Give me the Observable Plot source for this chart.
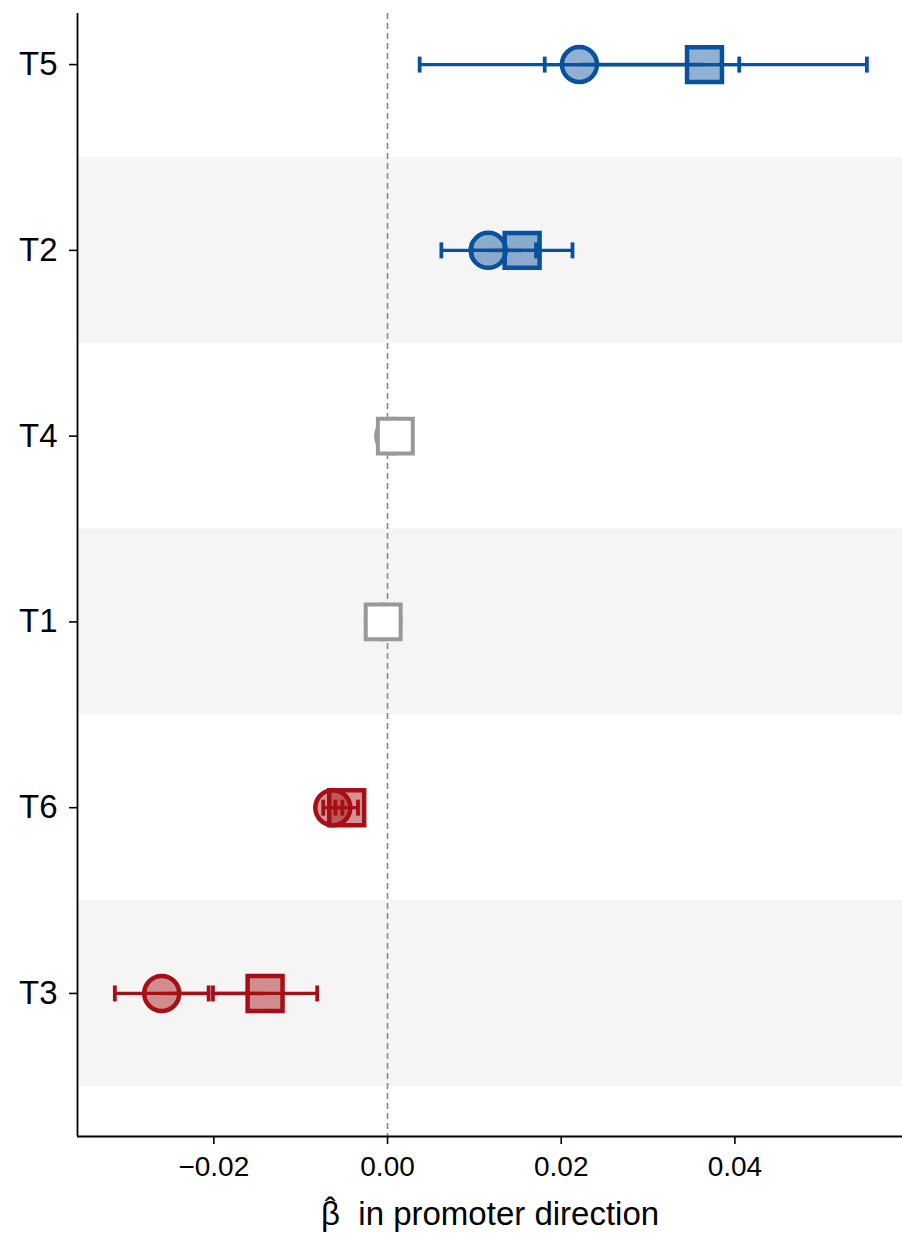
<!DOCTYPE html>
<html><head><meta charset="utf-8">
<script src="https://cdn.jsdelivr.net/npm/d3@7"></script>
<script src="https://cdn.jsdelivr.net/npm/@observablehq/plot@0.6"></script>
<style>body{margin:0;background:#fff}</style>
</head><body><div id="chart"></div>
<script>
// rows listed bottom to top (y index 0..5)
const terms = ["T3", "T6", "T1", "T4", "T2", "T5"];
const shadedTerms = ["T3", "T1", "T2"];
const direction = ["neg", "neg", "ns", "ns", "pos", "pos"];
const circleBeta = [-0.0260, -0.0063, -0.0005, 0.0007, 0.0116, 0.0221];
const circleLo   = [-0.0314, -0.0074, null, null, 0.0062, 0.0037];
const circleHi   = [-0.0206, -0.0052, null, null, 0.0171, 0.0405];
const squareBeta = [-0.0141, -0.0047, -0.0005, 0.0009, 0.0155, 0.0365];
const squareLo   = [-0.0201, -0.0060, null, null, 0.0097, 0.0181];
const squareHi   = [-0.0081, -0.0034, null, null, 0.0213, 0.0552];
const xTicks = [-0.02, 0.00, 0.02, 0.04];
const xDomain = [-0.0357, 0.0593];
const yDomain = [-0.77, 5.275];
const xLabelSymbol = "\u03b2";
const xLabelHat = "\u02c6";
const xLabelRest = "  in promoter direction";

const colors = {neg: "#a50f15", pos: "#08519c", ns: "#999999"};

const rows = terms.map((t, i) => ({
  term: t, i, dir: direction[i],
  cb: circleBeta[i], cl: circleLo[i], ch: circleHi[i],
  sb: squareBeta[i], sl: squareLo[i], sh: squareHi[i]
}));
const sig = rows.filter(d => d.dir !== "ns");
const ns = rows.filter(d => d.dir === "ns");
const bands = rows.filter(d => shadedTerms.includes(d.term));
const caps = sig.flatMap(d => [
  {x: d.cl, i: d.i, dir: d.dir}, {x: d.ch, i: d.i, dir: d.dir},
  {x: d.sl, i: d.i, dir: d.dir}, {x: d.sh, i: d.i, dir: d.dir}
]);
const vbar = {draw(ctx, size) { const r = Math.sqrt(size / Math.PI); ctx.moveTo(0, -r); ctx.lineTo(0, r); }};
const col = d => colors[d.dir];

const chart = Plot.plot({
  width: 902, height: 1236,
  marginLeft: 77, marginRight: 0, marginTop: 13, marginBottom: 100,
  style: {fontFamily: "'Liberation Sans', Arial, sans-serif", background: "#fff", color: "#000"},
  x: {domain: xDomain},
  y: {domain: yDomain},
  marks: [
    Plot.rect(bands, {x1: () => xDomain[0], x2: () => xDomain[1], y1: d => d.i - 0.5, y2: d => d.i + 0.5, fill: "#f5f5f5"}),
    Plot.ruleX([0], {stroke: "#888", strokeWidth: 1.6, strokeDasharray: "6,4"}),
    Plot.link(sig, {x1: "cb", x2: "sb", y1: "i", y2: "i", stroke: "#aaa", strokeWidth: 5, strokeOpacity: 0.5}),
    Plot.link(sig, {x1: "cl", x2: "ch", y1: "i", y2: "i", stroke: col, strokeWidth: 3.2}),
    Plot.link(sig, {x1: "sl", x2: "sh", y1: "i", y2: "i", stroke: col, strokeWidth: 3.2}),
    Plot.dot(caps, {x: "x", y: "i", symbol: vbar, r: 8, stroke: d => colors[d.dir], strokeWidth: 3.8, fill: "none"}),
    Plot.dot(sig, {x: "cb", y: "i", symbol: "circle", r: 17.5, fill: col, fillOpacity: 0.45, stroke: col, strokeWidth: 4.5}),
    Plot.dot(sig, {x: "sb", y: "i", symbol: "square", r: 19.7, fill: col, fillOpacity: 0.45, stroke: col, strokeWidth: 4.5}),
    Plot.dot(ns, {x: "cb", y: "i", symbol: "circle", r: 17.5, fill: "#fff", stroke: col, strokeWidth: 4}),
    Plot.dot(ns, {x: "sb", y: "i", symbol: "square", r: 19.7, fill: "#fff", stroke: col, strokeWidth: 4}),
    Plot.ruleX([xDomain[0]], {stroke: "#000", strokeWidth: 1.8}),
    Plot.ruleY([yDomain[0]], {stroke: "#000", strokeWidth: 1.8}),
    Plot.axisX({ticks: xTicks, tickFormat: d3.format(".2f"), tickSize: 8, tickPadding: 12, fontSize: 28, label: null, strokeWidth: 1.6}),
    Plot.axisY({ticks: d3.range(terms.length), tickFormat: i => terms[i], tickSize: 8, tickPadding: 12, fontSize: 33, label: null, strokeWidth: 1.6}),
    Plot.text([xLabelSymbol + xLabelRest], {frameAnchor: "bottom", dy: 78, fontSize: 33, text: d => d, lineAnchor: "middle", className: "xlabel"})
  ]
});
// put a circumflex over the beta in the axis label (kept as real text)
const lbl = chart.querySelector(".xlabel text");
if (lbl) {
  lbl.textContent = "";
  const ns_ = "http://www.w3.org/2000/svg";
  const t1 = document.createElementNS(ns_, "tspan"); t1.textContent = xLabelSymbol;
  const t2 = document.createElementNS(ns_, "tspan"); t2.textContent = xLabelHat;
  t2.setAttribute("dx", "-0.46em"); t2.setAttribute("dy", "-0.12em");
  const t3 = document.createElementNS(ns_, "tspan"); t3.textContent = xLabelRest;
  t3.setAttribute("dx", "0.13em"); t3.setAttribute("dy", "0.12em");
  t3.setAttribute("xml:space", "preserve");
  lbl.setAttribute("style", "white-space:pre");
  lbl.append(t1, t2, t3);
}
document.getElementById("chart").appendChild(chart);
</script>
</body></html>
